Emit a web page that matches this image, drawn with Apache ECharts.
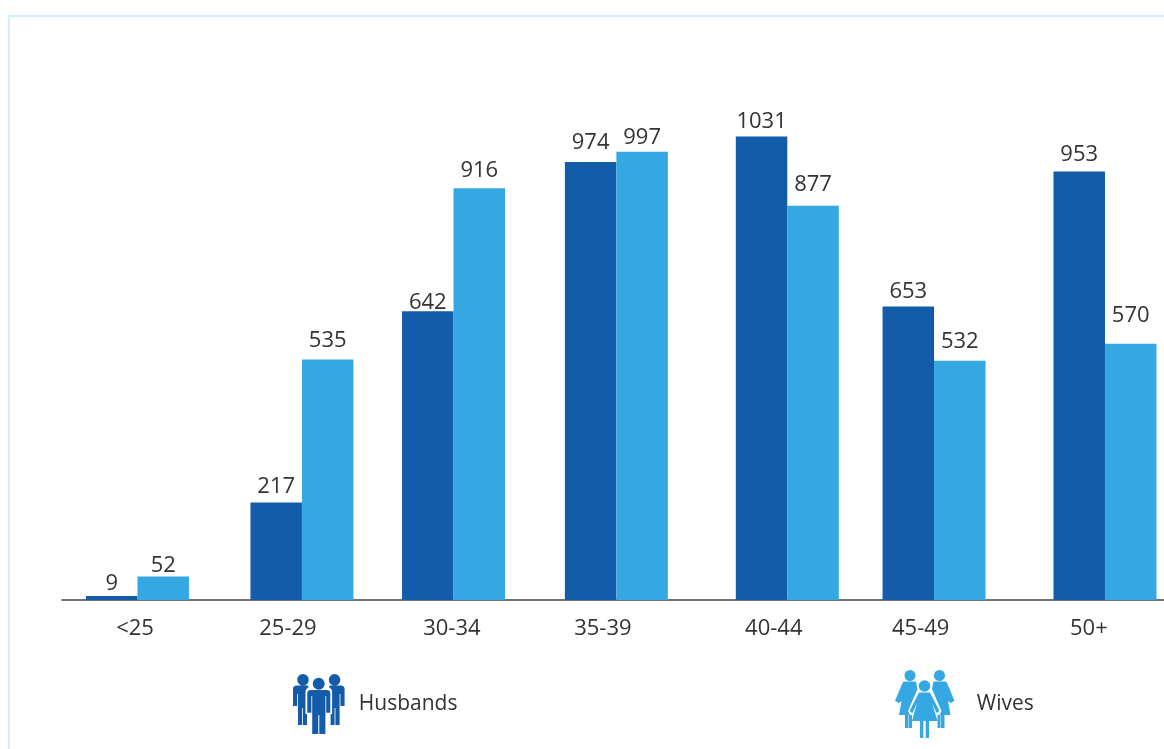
<!DOCTYPE html>
<html>
<head>
<meta charset="utf-8">
<style>html,body{margin:0;padding:0;background:#fff}#chart{width:1164px;height:749px}</style>
<script src="https://cdn.jsdelivr.net/npm/echarts@6/dist/echarts.min.js"></script>
</head>
<body>
<div id="chart"></div>
<script>
const ageLabels = ['<25','25-29','30-34','35-39','40-44','45-49','50+'];
const husbands = [9,217,642,974,1031,653,953];
const wives = [52,535,916,997,877,532,570];
const groupSlots = [0,1.02,1.96,2.97,4.03,4.94,6];
const labelSlots = [-0.015,0.933,1.95,2.886,3.946,4.857,5.9];
const husbandsLabelGap = [1,5,-2,8,4,4,6];
const wivesLabelGap = [0,8,6,3,10,8,17];

const husbandsIcon = 'path://M4.2 5.8a5.8 5.8 0 1 0 11.6 0a5.8 5.8 0 1 0 -11.6 0Z' +
  'M35.8 5.8a5.8 5.8 0 1 0 11.6 0a5.8 5.8 0 1 0 -11.6 0Z' +
  'M19.7 9.8a6 6 0 1 0 12 0a6 6 0 1 0 -12 0Z' +
  'M0 15Q0 11.5 4 11.5L15 11.5L15.5 13.5Q12.5 14.5 12.5 18L12.5 40L14 40L14 51L10 51L10 34L9.2 34L9.2 51L5 51L5 20L4.2 20L4.2 32L0 32Z' +
  'M51.6 15Q51.6 11.5 47.6 11.5L36.6 11.5L36.1 13.5Q39.1 14.5 39.1 18L39.1 40L37.6 40L37.6 51L41.6 51L41.6 34L42.4 34L42.4 51L46.6 51L46.6 20L47.4 20L47.4 32L51.6 32Z' +
  'M14.3 19Q14.3 16 18 16L33.6 16Q37.3 16 37.3 19L37.3 38.7L33.2 38.7L33.2 22L32.4 22L32.4 60L26.3 60L26.3 41L25.3 41L25.3 60L19.2 60L19.2 22L18.4 22L18.4 38.7L14.3 38.7Z';

const wivesIcon = 'path://M9.5 5.5a5.5 5.5 0 1 0 11 0a5.5 5.5 0 1 0 -11 0Z' +
  'M39 5.5a5.5 5.5 0 1 0 11 0a5.5 5.5 0 1 0 -11 0Z' +
  'M23.7 16a5.8 5.8 0 1 0 11.6 0a5.8 5.8 0 1 0 -11.6 0Z' +
  'M9 11.5L21 11.5L22.5 19L13 41L15 45L17 45L17 58L14 58L14 45L13.5 45L13.5 58L10 58L10 45L4 45L6.5 31L4 33L0 31L7 14Q8 11.5 9 11.5Z' +
  'M50.5 11.5L38.5 11.5L37 19L46.5 41L44.5 45L42.5 45L42.5 58L45.5 58L45.5 45L46 45L46 58L49.5 58L49.5 45L55.5 45L53 31L55.5 33L59.5 31L52.5 14Q51.5 11.5 50.5 11.5Z' +
  'M24 22.5L35 22.5L44.5 41L41.5 43L37 33L42.5 51L34 51L34 68L30.7 68L30.7 51L28.3 51L28.3 68L25 68L25 51L17 51L22 33L17.5 43L14.5 41Z';

const FONT = 'Open Sans';
const TEXT = '#333333';
const chart = echarts.init(document.getElementById('chart'), null, {renderer:'canvas'});
const labelCfg = {show:true, position:'top', color:TEXT, fontFamily:FONT, fontSize:22};
const barData = (values, gaps) => values.map((v,i)=>({
  value:[groupSlots[i],v], label:{distance:gaps[i]}
}));
chart.setOption({
  animation:false,
  backgroundColor:'#ffffff',
  grid:{left:62, right:0, top:20, bottom:149},
  xAxis:{
    type:'value', min:-0.468, max:6.366, splitLine:{show:false},
    axisLine:{show:true, onZero:false, lineStyle:{color:'#444444', width:1.5}},
    axisTick:{show:false},
    axisLabel:{
      customValues:labelSlots, margin:18, color:TEXT, fontFamily:FONT, fontSize:22,
      formatter:(v)=>ageLabels[labelSlots.indexOf(v)]
    }
  },
  yAxis:{type:'value', min:0, max:1290, show:false, splitLine:{show:false}},
  legend:[
    {left:293, top:674, padding:0, orient:'horizontal', itemWidth:52, itemHeight:60, selectedMode:false,
     data:[{name:'Husbands', icon:husbandsIcon}],
     textStyle:{color:TEXT, fontFamily:FONT, fontSize:21, padding:[0,0,0,9]}},
    {left:895, top:670, padding:0, orient:'horizontal', itemWidth:60, itemHeight:68, selectedMode:false,
     data:[{name:'Wives', icon:wivesIcon}],
     textStyle:{color:TEXT, fontFamily:FONT, fontSize:21, padding:[0,0,0,17]}}
  ],
  series:[
    {name:'Husbands', type:'bar', barWidth:51.5, barGap:'0%', itemStyle:{color:'#135CA9'},
     label:labelCfg, data:barData(husbands,husbandsLabelGap)},
    {name:'Wives', type:'bar', barWidth:51.5, barGap:'0%', itemStyle:{color:'#35A7E2'},
     label:labelCfg, data:barData(wives,wivesLabelGap)}
  ],
  graphic:[
    {type:'rect', silent:true, z:-1, shape:{x:8,y:15,width:1156,height:2}, style:{fill:'#CFEEFF'}},
    {type:'rect', silent:true, z:-1, shape:{x:8,y:15,width:2,height:734}, style:{fill:'#CFEEFF'}}
  ]
});
</script>
</body>
</html>
